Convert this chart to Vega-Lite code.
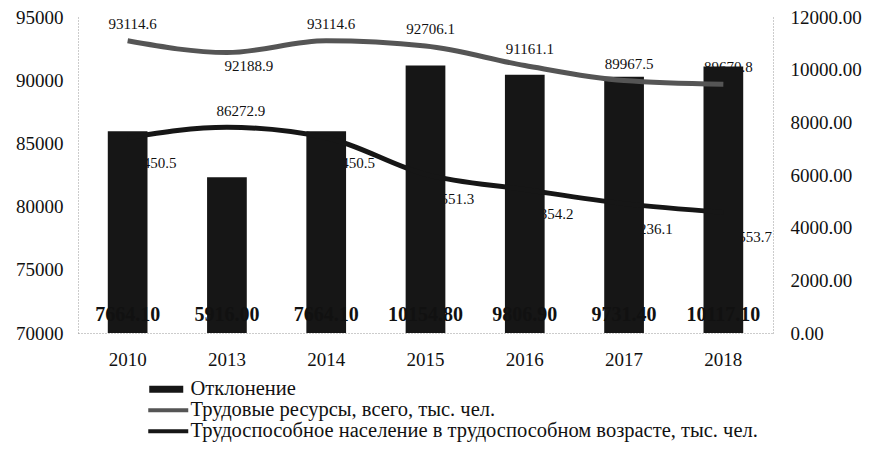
{
  "$schema": "https://vega.github.io/schema/vega-lite/v6.json",
  "autosize": {"type": "none"},
  "width": 695,
  "height": 316,
  "padding": {"left": 78, "top": 17, "right": 97, "bottom": 117},
  "background": "white",
  "config": {
    "font": "Liberation Serif",
    "view": {"stroke": null},
    "axis": {"grid": false}
  },
  "data": {
    "values": [
      {"year": "2010", "tr": 93114.6, "tn": 85450.5, "otkl": 7664.1},
      {"year": "2013", "tr": 92188.9, "tn": 86272.9, "otkl": 5916.0},
      {"year": "2014", "tr": 93114.6, "tn": 85450.5, "otkl": 7664.1},
      {"year": "2015", "tr": 92706.1, "tn": 82551.3, "otkl": 10154.8},
      {"year": "2016", "tr": 91161.1, "tn": 81354.2, "otkl": 9806.9},
      {"year": "2017", "tr": 89967.5, "tn": 80236.1, "otkl": 9731.4},
      {"year": "2018", "tr": 89670.8, "tn": 79553.7, "otkl": 10117.1}
    ]
  },
  "encoding": {
    "x": {
      "field": "year",
      "type": "ordinal",
      "scale": {"type": "band", "paddingInner": 0.6, "paddingOuter": 0.3},
      "axis": {
        "title": null,
        "labelAngle": 0,
        "labelFont": "Liberation Serif",
        "labelFontSize": 19,
        "labelColor": "#111",
        "labelPadding": 17,
        "domainColor": "#999",
        "domainDash": [1, 2],
        "ticks": false
      }
    }
  },
  "resolve": {"scale": {"y": "independent"}},
  "layer": [
    {
      "transform": [{"filter": "datum.year != '2013'"}],
      "mark": {"type": "text", "align": "left", "dx": 0, "dy": 25, "fontSize": 15, "color": "#111"},
      "encoding": {
        "y": {
          "field": "tn",
          "type": "quantitative",
          "scale": {"domain": [70000, 95000], "nice": false, "zero": false},
          "axis": {
            "orient": "left",
            "title": null,
            "values": [70000, 75000, 80000, 85000, 90000, 95000],
            "format": "d",
            "labelFontSize": 19,
            "labelColor": "#111",
            "labelPadding": 15,
            "ticks": false,
            "domainDash": [1, 2],
            "domainColor": "#999"
          }
        },
        "text": {"field": "tn", "format": ".1f"}
      }
    },
    {
      "transform": [{"filter": "datum.year == '2013'"}],
      "mark": {"type": "text", "align": "center", "dx": 14, "dy": -16, "fontSize": 15, "color": "#111"},
      "encoding": {
        "y": {"field": "tn", "type": "quantitative", "scale": {"domain": [70000, 95000], "nice": false, "zero": false}, "axis": null},
        "text": {"field": "tn", "format": ".1f"}
      }
    },
    {
      "transform": [{"filter": "datum.year != '2013'"}],
      "mark": {"type": "text", "align": "center", "dx": 5, "dy": -17, "fontSize": 15, "color": "#111"},
      "encoding": {
        "y": {"field": "tr", "type": "quantitative", "scale": {"domain": [70000, 95000], "nice": false, "zero": false}, "axis": null},
        "text": {"field": "tr", "format": ".1f"}
      }
    },
    {
      "transform": [{"filter": "datum.year == '2013'"}],
      "mark": {"type": "text", "align": "center", "dx": 22, "dy": 13, "fontSize": 15, "color": "#111"},
      "encoding": {
        "y": {"field": "tr", "type": "quantitative", "scale": {"domain": [70000, 95000], "nice": false, "zero": false}, "axis": null},
        "text": {"field": "tr", "format": ".1f"}
      }
    },
    {
      "mark": {"type": "bar"},
      "encoding": {
        "y": {
          "field": "otkl",
          "type": "quantitative",
          "scale": {"domain": [0, 12000], "nice": false},
          "axis": {
            "orient": "right",
            "title": null,
            "values": [0, 2000, 4000, 6000, 8000, 10000, 12000],
            "format": ".2f",
            "labelFontSize": 19,
            "labelColor": "#111",
            "labelPadding": 17,
            "ticks": false,
            "domainDash": [1, 2],
            "domainColor": "#999"
          }
        },
        "color": {
          "datum": "Отклонение",
          "type": "nominal",
          "scale": {
            "domain": ["Отклонение", "Трудовые ресурсы, всего, тыс. чел.", "Трудоспособное население в трудоспособном возрасте, тыс. чел."],
            "range": ["#161616", "#555555", "#161616"]
          },
          "legend": {
            "orient": "none",
            "legendX": 80,
            "legendY": 362,
            "direction": "vertical",
            "title": null,
            "labelFont": "Liberation Serif",
            "labelFontSize": 20.5,
            "labelColor": "#111",
            "labelLimit": 0,
            "symbolSize": 100,
            "labelOffset": 12,
            "rowPadding": 0,
            "symbolStrokeWidth": 0,
            "encode": {
              "symbols": {
                "update": {
                  "shape": {"signal": "datum.value === 'Отклонение' ? 'M-3.8,-0.7H3.0V0.7H-3.8Z' : 'M-4.0,-0.4H4.0V0.4H-4.0Z'"},
                  "fill": {"scale": "color", "field": "value"},
                  "stroke": {"value": "transparent"},
                  "strokeWidth": {"value": 0},
                  "opacity": {"value": 1},
                  "fillOpacity": {"value": 1}
                }
              }
            }
          }
        }
      }
    },
    {
      "mark": {"type": "line", "interpolate": "monotone", "strokeWidth": 5},
      "encoding": {
        "y": {"field": "tr", "type": "quantitative", "scale": {"domain": [70000, 95000], "nice": false, "zero": false}, "axis": null},
        "color": {"datum": "Трудовые ресурсы, всего, тыс. чел.", "type": "nominal"}
      }
    },
    {
      "mark": {"type": "line", "interpolate": "monotone", "strokeWidth": 5},
      "encoding": {
        "y": {"field": "tn", "type": "quantitative", "scale": {"domain": [70000, 95000], "nice": false, "zero": false}, "axis": null},
        "color": {"datum": "Трудоспособное население в трудоспособном возрасте, тыс. чел.", "type": "nominal"}
      }
    },
    {
      "mark": {"type": "text", "align": "center", "dy": -18, "fontSize": 20, "fontWeight": "bold", "color": "#111"},
      "encoding": {
        "y": {"datum": 0, "type": "quantitative", "scale": {"domain": [0, 12000], "nice": false}, "axis": null},
        "text": {"field": "otkl", "format": ".2f"}
      }
    }
  ]
}
